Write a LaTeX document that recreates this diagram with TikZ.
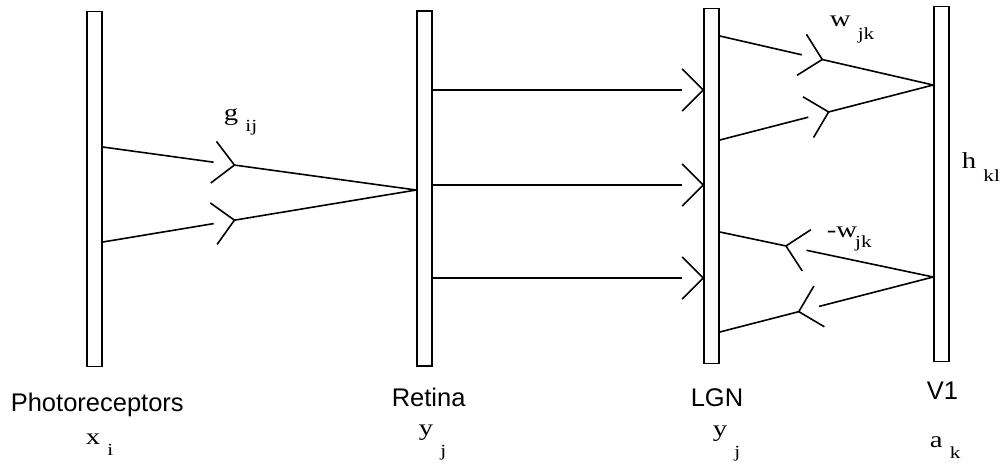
\documentclass[tikz,border=0pt]{standalone}
\usepackage{fontspec}
\usepackage{tikz}
\usetikzlibrary{calc,positioning,decorations.markings}

\newfontfamily\arialfont{Liberation Sans}
\newfontfamily\serifvar[FakeStretch=1.25]{Liberation Serif}
\newcommand{\varlab}[3][11pt]{\serifvar\fontsize{23}{23}\selectfont #2\ \raisebox{-#1}{\fontsize{17}{17}\selectfont #3}}

\begin{document}
\begin{tikzpicture}[x=1pt,y=-1pt,line width=1.6pt,node distance=330pt,
                    layer/.style={draw,rectangle,inner sep=0pt,minimum width=15pt,minimum height=355pt},
                    area/.style={font=\arialfont\fontsize{25.5}{25.5}\selectfont,anchor=base west,inner sep=0pt},
                    var/.style={anchor=base west,inner sep=0pt},
                    syn/.style={shorten >=21pt,postaction={decorate,decoration={markings,
                      mark=at position 1 with {\draw[shorten >=0pt] (-21pt,21pt) -- (0pt,0pt) -- (-21pt,-21pt);}}}}]
  \useasboundingbox (0,0) rectangle (1003,464);

  % the four layers
  \node[layer] (photo) at (94.5,189) {};
  \node[layer,right of=photo,yshift=0.5pt] (retina) {};
  \node[layer,node distance=287pt,right of=retina,yshift=2.5pt] (lgn) {};
  \node[layer,node distance=230pt,right of=lgn,yshift=2pt] (vone) {};

  % where the lines meet the layers
  \coordinate (p1) at (photo.east |- 0,147);
  \coordinate (p2) at (photo.east |- 0,242);
  \coordinate (r0) at (retina.west |- 0,190);
  \coordinate (l1) at (lgn.east |- 0,36);
  \coordinate (l2) at (lgn.east |- 0,140);
  \coordinate (l3) at (lgn.east |- 0,232);
  \coordinate (l4) at (lgn.east |- 0,332);
  \coordinate (v1) at (vone.west |- 0,85);
  \coordinate (v2) at (vone.west |- 0,277);

  % synapses
  \coordinate (g1) at ($(p1)!0.42!(r0)$);
  \coordinate (g2) at ($(p2)!0.42!(r0)$);
  \coordinate (w1) at ($(l1)!0.48!(v1)$);
  \coordinate (w2) at ($(l2)!0.51!(v1)$);
  \coordinate (w3) at ($(v2)!0.69!(l3)$);
  \coordinate (w4) at ($(v2)!0.63!(l4)$);

  \path (p1) edge[syn] (g1)  (g1) edge (r0)
        (p2) edge[syn] (g2)  (g2) edge (r0)
        (retina.east |- 0,90)  edge[syn] (lgn.west |- 0,90)
        (retina.east |- 0,185) edge[syn] (lgn.west |- 0,185)
        (retina.east |- 0,278) edge[syn] (lgn.west |- 0,278)
        (l1) edge[syn] (w1)  (w1) edge (v1)
        (l2) edge[syn] (w2)  (w2) edge (v1)
        (v2) edge[syn] (w3)  (w3) edge (l3)
        (v2) edge[syn] (w4)  (w4) edge (l4);

  % weights
  \node[var] (gij) at (223,120) {\varlab[11pt]{g}{ij}};
  \node[var] (wjk) at (829,26) {\varlab[13pt]{w}{jk}};
  \node[var] (hkl) at (961,168) {\varlab[13pt]{h}{kl}};
  \node[var] (mwjk) at (826,237) {\serifvar\fontsize{23}{23}\selectfont -w\kern-2pt\raisebox{-10pt}{\fontsize{17}{17}\selectfont jk}};

  % layer names
  \node[area] (photoname) at (10,411) {Photoreceptors};
  \node[area] (retinaname) at (391,406) {Retina};
  \node[area] (lgnname) at (690,406) {LGN};
  \node[area] (vonename) at (926,399) {V1};

  % activities
  \node[var] (xi) at (85,444) {\varlab[11pt]{x}{i}};
  \node[var] (yj) at (418,435) {\varlab[21pt]{y}{j}};
  \node[var] (yjl) at (712,436) {\varlab[21pt]{y}{j}};
  \node[var] (ak) at (929,447) {\varlab[11pt]{a}{k}};
\end{tikzpicture}
\end{document}
